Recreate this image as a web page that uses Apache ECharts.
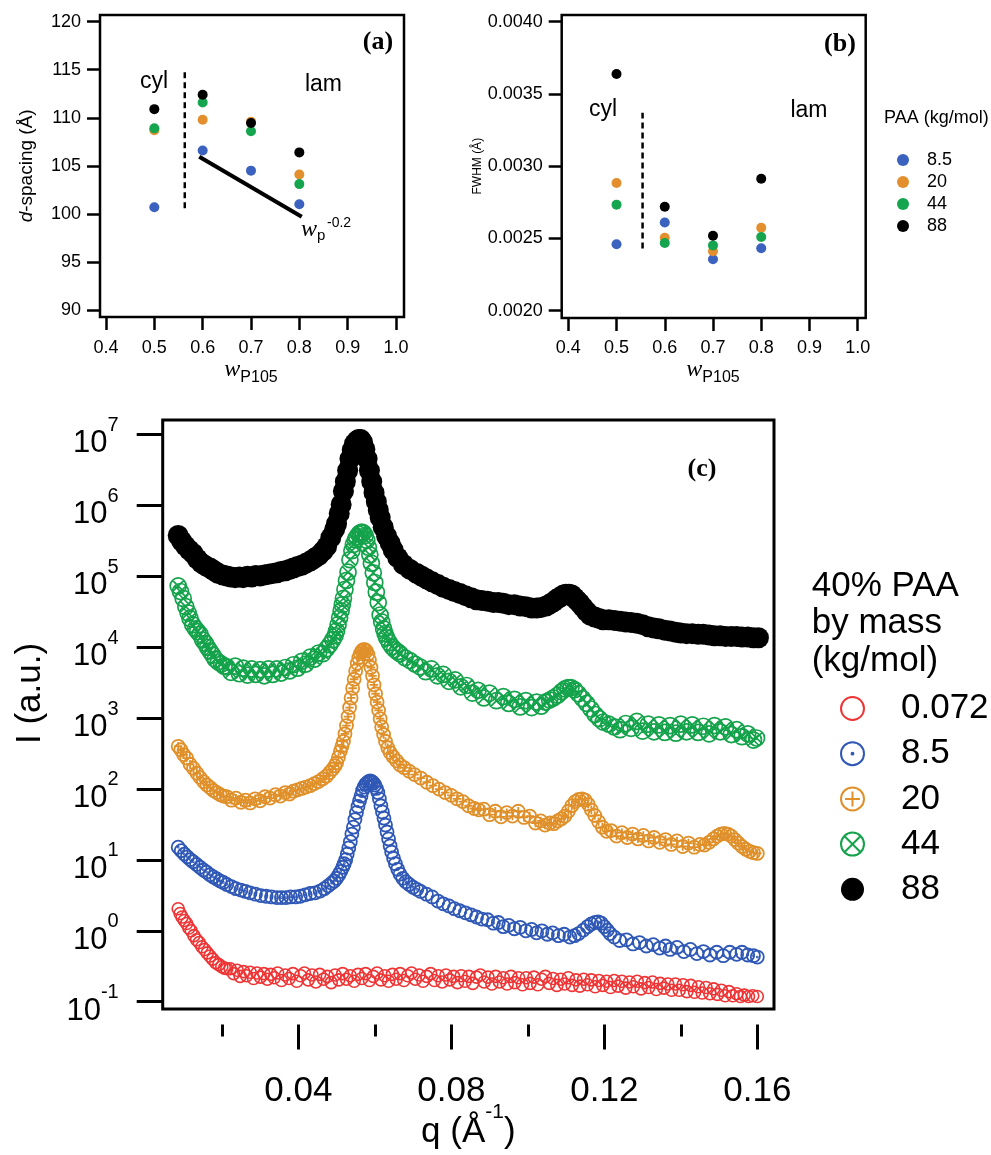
<!DOCTYPE html>
<html><head><meta charset="utf-8">
<script src="https://cdn.jsdelivr.net/npm/echarts@6/dist/echarts.min.js"></script>
<style>html,body{margin:0;padding:0;background:#fff}#c{width:991px;height:1155px}</style>
</head><body><div id="c"></div>
<script>
// ================= DATA =================
// panels (a),(b): x = w_P105
const wP105 = [0.5, 0.6, 0.7, 0.8];
const paaLabels = ['8.5', '20', '44', '88'];
const dSpacing_8_5 = [100.7, 106.6, 104.5, 101.0];
const dSpacing_20  = [108.7, 109.8, 109.6, 104.1];
const dSpacing_44  = [108.9, 111.6, 108.6, 103.1];
const dSpacing_88  = [110.9, 112.4, 109.45, 106.4];
const fwhm_8_5 = [0.00246, 0.00261, 0.002356, 0.002432];
const fwhm_20  = [0.002884, 0.002505, 0.002411, 0.002574];
const fwhm_44  = [0.002734, 0.002469, 0.002452, 0.00251];
const fwhm_88  = [0.003638, 0.00272, 0.002519, 0.002913];
const boundaryA = [[0.563, 100.6], [0.563, 114.9]];
const powerLawA = [[0.593, 105.95], [0.805, 99.7]];
const boundaryB = [[0.554, 0.00243], [0.554, 0.00337]];
// tick values
const xTicksAB = [0.4, 0.5, 0.6, 0.7, 0.8, 0.9, 1.0];
const yTicksA = [90, 95, 100, 105, 110, 115, 120];
const yTicksB = [0.0020, 0.0025, 0.0030, 0.0035, 0.0040];
const xTicksC = [0.04, 0.08, 0.12, 0.16];
const xMinorTicksC = [0.02, 0.04, 0.06, 0.08, 0.10, 0.12, 0.14, 0.16];
const yExpC = [-1, 0, 1, 2, 3, 4, 5, 6, 7];
// panel (c): [q (1/Å), log10 I]
const c_0072 = [[0.0086,0.13],[0.0091,0.06],[0.0096,0.01],[0.0102,-0.04],[0.0108,-0.085],[0.0114,-0.15],[0.0120,-0.19],[0.0127,-0.26],[0.0134,-0.32],[0.0141,-0.36],[0.0148,-0.42],[0.0155,-0.46],[0.0162,-0.51],[0.0169,-0.555],[0.0176,-0.60],[0.0184,-0.65],[0.0192,-0.68],[0.0200,-0.71],[0.0207,-0.73],[0.0213,-0.74],[0.0222,-0.74],[0.0231,-0.81],[0.0240,-0.76],[0.0248,-0.85],[0.0257,-0.78],[0.0265,-0.84],[0.0274,-0.79],[0.0283,-0.88],[0.0292,-0.80],[0.0301,-0.86],[0.0310,-0.81],[0.0319,-0.89],[0.0328,-0.82],[0.0337,-0.87],[0.0346,-0.80],[0.0356,-0.91],[0.0366,-0.83],[0.0376,-0.88],[0.0386,-0.81],[0.0396,-0.92],[0.0406,-0.84],[0.0416,-0.80],[0.0426,-0.90],[0.0436,-0.83],[0.0446,-0.93],[0.0456,-0.82],[0.0466,-0.89],[0.0476,-0.85],[0.0486,-0.94],[0.0496,-0.83],[0.0506,-0.90],[0.0516,-0.81],[0.0526,-0.89],[0.0536,-0.84],[0.0546,-0.92],[0.0556,-0.82],[0.0566,-0.88],[0.0576,-0.81],[0.0586,-0.91],[0.0596,-0.85],[0.0606,-0.80],[0.0616,-0.90],[0.0626,-0.84],[0.0636,-0.92],[0.0646,-0.82],[0.0656,-0.89],[0.0666,-0.81],[0.0676,-0.91],[0.0686,-0.84],[0.0696,-0.80],[0.0706,-0.89],[0.0716,-0.83],[0.0726,-0.92],[0.0736,-0.85],[0.0746,-0.81],[0.0756,-0.91],[0.0766,-0.84],[0.0776,-0.93],[0.0786,-0.83],[0.0796,-0.90],[0.0806,-0.85],[0.0816,-0.94],[0.0826,-0.84],[0.0836,-0.92],[0.0846,-0.85],[0.0856,-0.95],[0.0866,-0.86],[0.0876,-0.83],[0.0886,-0.93],[0.0896,-0.86],[0.0906,-0.96],[0.0916,-0.85],[0.0926,-0.93],[0.0936,-0.87],[0.0946,-0.96],[0.0956,-0.85],[0.0966,-0.94],[0.0976,-0.87],[0.0986,-0.97],[0.0996,-0.87],[0.1006,-0.95],[0.1016,-0.86],[0.1026,-0.97],[0.1036,-0.89],[0.1046,-0.85],[0.1056,-0.95],[0.1066,-0.88],[0.1076,-0.98],[0.1086,-0.89],[0.1096,-0.96],[0.1106,-0.87],[0.1116,-0.98],[0.1126,-0.90],[0.1136,-0.99],[0.1146,-0.89],[0.1156,-0.97],[0.1166,-0.90],[0.1176,-1.00],[0.1186,-0.91],[0.1196,-0.98],[0.1206,-0.92],[0.1216,-1.01],[0.1226,-0.91],[0.1236,-0.99],[0.1246,-0.92],[0.1256,-1.02],[0.1266,-0.93],[0.1276,-1.00],[0.1286,-0.92],[0.1296,-1.03],[0.1306,-0.94],[0.1316,-1.01],[0.1326,-0.93],[0.1336,-1.04],[0.1346,-0.95],[0.1356,-1.02],[0.1366,-0.96],[0.1376,-1.05],[0.1386,-0.96],[0.1396,-1.05],[0.1406,-0.97],[0.1416,-1.07],[0.1426,-0.98],[0.1436,-1.08],[0.1446,-1.00],[0.1456,-1.09],[0.1466,-1.01],[0.1476,-1.10],[0.1486,-1.03],[0.1496,-1.11],[0.1506,-1.05],[0.1516,-1.13],[0.1526,-1.07],[0.1536,-1.13],[0.1546,-1.10],[0.1556,-1.14],[0.1566,-1.12],[0.1577,-1.14],[0.1588,-1.13],[0.1600,-1.14]];
const c_8_5 = [[0.0086,1.02],[0.0094,0.97],[0.0102,0.92],[0.0110,0.88],[0.0118,0.84],[0.0125,0.81],[0.0134,0.77],[0.0143,0.73],[0.0152,0.69],[0.0160,0.66],[0.0169,0.62],[0.0178,0.59],[0.0187,0.56],[0.0196,0.53],[0.0204,0.51],[0.0213,0.48],[0.0225,0.45],[0.0237,0.42],[0.0250,0.40],[0.0262,0.38],[0.0274,0.36],[0.0288,0.34],[0.0302,0.32],[0.0316,0.31],[0.0330,0.30],[0.0344,0.29],[0.0356,0.29],[0.0368,0.29],[0.0380,0.30],[0.0393,0.30],[0.0405,0.31],[0.0418,0.33],[0.0431,0.35],[0.0444,0.36],[0.0457,0.385],[0.0468,0.42],[0.0478,0.46],[0.0487,0.50],[0.0494,0.53],[0.0500,0.57],[0.0506,0.62],[0.0511,0.67],[0.0516,0.73],[0.0520,0.78],[0.0524,0.84],[0.0528,0.92],[0.0532,1.01],[0.0536,1.10],[0.0540,1.21],[0.0544,1.31],[0.0548,1.42],[0.0552,1.52],[0.0556,1.61],[0.0560,1.69],[0.0564,1.76],[0.0568,1.84],[0.0572,1.89],[0.0576,1.93],[0.0580,1.95],[0.0584,1.97],[0.0588,1.98],[0.0592,1.97],[0.0596,1.95],[0.0600,1.92],[0.0604,1.87],[0.0608,1.81],[0.0612,1.72],[0.0616,1.62],[0.0620,1.53],[0.0624,1.44],[0.0628,1.34],[0.0632,1.24],[0.0636,1.14],[0.0640,1.04],[0.0644,0.95],[0.0649,0.86],[0.0654,0.78],[0.0660,0.70],[0.0666,0.63],[0.0673,0.57],[0.0681,0.52],[0.0690,0.48],[0.0700,0.44],[0.0710,0.41],[0.0720,0.38],[0.0735,0.34],[0.0750,0.30],[0.0765,0.24],[0.0779,0.20],[0.0794,0.17],[0.0808,0.13],[0.0822,0.10],[0.0837,0.07],[0.0852,0.04],[0.0866,0.01],[0.0880,-0.02],[0.0895,-0.03],[0.0910,-0.08],[0.0923,-0.07],[0.0936,-0.13],[0.0950,-0.11],[0.0965,-0.16],[0.0980,-0.14],[0.0995,-0.19],[0.1010,-0.17],[0.1023,-0.22],[0.1037,-0.19],[0.1051,-0.24],[0.1065,-0.22],[0.1080,-0.26],[0.1095,-0.24],[0.1110,-0.28],[0.1122,-0.26],[0.1133,-0.23],[0.1145,-0.18],[0.1156,-0.13],[0.1166,-0.09],[0.1176,-0.07],[0.1184,-0.06],[0.1192,-0.08],[0.1200,-0.13],[0.1208,-0.18],[0.1215,-0.23],[0.1226,-0.28],[0.1240,-0.33],[0.1258,-0.32],[0.1275,-0.38],[0.1292,-0.36],[0.1310,-0.41],[0.1328,-0.39],[0.1345,-0.44],[0.1360,-0.41],[0.1372,-0.46],[0.1390,-0.43],[0.1408,-0.49],[0.1425,-0.46],[0.1442,-0.52],[0.1459,-0.49],[0.1476,-0.54],[0.1494,-0.50],[0.1511,-0.55],[0.1528,-0.50],[0.1546,-0.53],[0.1560,-0.50],[0.1575,-0.54],[0.1590,-0.55],[0.1600,-0.57]];
const c_20 = [[0.0086,2.48],[0.0093,2.43],[0.0100,2.36],[0.0108,2.31],[0.0117,2.22],[0.0126,2.16],[0.0135,2.09],[0.0143,2.03],[0.0152,1.97],[0.0161,1.92],[0.0170,1.88],[0.0178,1.84],[0.0187,1.81],[0.0196,1.78],[0.0204,1.76],[0.0213,1.75],[0.0225,1.70],[0.0237,1.73],[0.0250,1.67],[0.0262,1.70],[0.0274,1.66],[0.0287,1.72],[0.0300,1.69],[0.0313,1.75],[0.0326,1.73],[0.0340,1.78],[0.0353,1.76],[0.0366,1.81],[0.0377,1.79],[0.0387,1.83],[0.0398,1.85],[0.0409,1.87],[0.0420,1.89],[0.0431,1.91],[0.0442,1.94],[0.0453,1.97],[0.0464,2.01],[0.0474,2.05],[0.0482,2.10],[0.0490,2.15],[0.0496,2.20],[0.0500,2.24],[0.0505,2.32],[0.0510,2.41],[0.0514,2.48],[0.0518,2.55],[0.0522,2.66],[0.0526,2.78],[0.0530,2.91],[0.0534,3.04],[0.0538,3.18],[0.0542,3.32],[0.0546,3.45],[0.0550,3.57],[0.0554,3.68],[0.0558,3.76],[0.0562,3.82],[0.0566,3.86],[0.0570,3.88],[0.0574,3.88],[0.0578,3.86],[0.0582,3.81],[0.0586,3.73],[0.0590,3.62],[0.0594,3.50],[0.0598,3.37],[0.0602,3.24],[0.0606,3.12],[0.0610,3.00],[0.0614,2.88],[0.0618,2.76],[0.0623,2.65],[0.0628,2.55],[0.0634,2.46],[0.0640,2.39],[0.0648,2.33],[0.0657,2.27],[0.0666,2.21],[0.0677,2.17],[0.0690,2.12],[0.0704,2.07],[0.0720,2.02],[0.0736,1.96],[0.0752,1.91],[0.0768,1.86],[0.0784,1.81],[0.0800,1.77],[0.0815,1.72],[0.0830,1.68],[0.0845,1.62],[0.0860,1.58],[0.0872,1.56],[0.0885,1.57],[0.0900,1.49],[0.0915,1.54],[0.0930,1.46],[0.0945,1.52],[0.0960,1.47],[0.0975,1.54],[0.0990,1.45],[0.1005,1.47],[0.1020,1.37],[0.1034,1.40],[0.1045,1.34],[0.1058,1.37],[0.1068,1.36],[0.1078,1.40],[0.1088,1.43],[0.1097,1.47],[0.1106,1.54],[0.1115,1.62],[0.1124,1.68],[0.1133,1.71],[0.1142,1.72],[0.1150,1.70],[0.1158,1.64],[0.1166,1.56],[0.1175,1.48],[0.1185,1.39],[0.1195,1.31],[0.1206,1.25],[0.1218,1.26],[0.1232,1.18],[0.1246,1.23],[0.1260,1.16],[0.1274,1.21],[0.1288,1.14],[0.1302,1.19],[0.1316,1.11],[0.1330,1.16],[0.1345,1.09],[0.1360,1.13],[0.1375,1.06],[0.1390,1.11],[0.1405,1.03],[0.1420,1.08],[0.1435,1.02],[0.1450,1.06],[0.1462,1.05],[0.1474,1.09],[0.1485,1.14],[0.1495,1.18],[0.1505,1.21],[0.1514,1.22],[0.1523,1.21],[0.1532,1.18],[0.1541,1.13],[0.1550,1.08],[0.1560,1.03],[0.1570,0.99],[0.1580,0.96],[0.1590,0.94],[0.1600,0.93]];
const c_44 = [[0.0086,4.80],[0.0092,4.72],[0.0099,4.62],[0.0106,4.50],[0.0112,4.41],[0.0117,4.33],[0.0124,4.24],[0.0131,4.18],[0.0137,4.14],[0.0143,4.10],[0.0150,4.02],[0.0157,3.97],[0.0163,3.91],[0.0169,3.86],[0.0176,3.80],[0.0183,3.74],[0.0191,3.70],[0.0199,3.67],[0.0206,3.64],[0.0213,3.63],[0.0224,3.55],[0.0235,3.64],[0.0246,3.53],[0.0256,3.61],[0.0267,3.51],[0.0278,3.60],[0.0289,3.52],[0.0300,3.59],[0.0311,3.50],[0.0322,3.60],[0.0333,3.52],[0.0344,3.60],[0.0355,3.54],[0.0366,3.62],[0.0377,3.57],[0.0387,3.66],[0.0398,3.61],[0.0409,3.71],[0.0420,3.67],[0.0431,3.77],[0.0442,3.74],[0.0453,3.83],[0.0464,3.82],[0.0474,3.89],[0.0482,3.95],[0.0490,4.02],[0.0496,4.08],[0.0500,4.15],[0.0504,4.24],[0.0508,4.34],[0.0512,4.44],[0.0515,4.53],[0.0518,4.62],[0.0522,4.75],[0.0526,4.88],[0.0530,5.00],[0.0535,5.18],[0.0540,5.31],[0.0544,5.40],[0.0549,5.47],[0.0553,5.51],[0.0558,5.55],[0.0562,5.57],[0.0566,5.58],[0.0570,5.57],[0.0575,5.53],[0.0579,5.46],[0.0583,5.36],[0.0587,5.25],[0.0591,5.13],[0.0596,4.99],[0.0600,4.85],[0.0604,4.71],[0.0609,4.56],[0.0614,4.38],[0.0618,4.28],[0.0623,4.18],[0.0627,4.11],[0.0631,4.05],[0.0638,3.98],[0.0645,3.92],[0.0652,3.88],[0.0659,3.85],[0.0666,3.82],[0.0679,3.76],[0.0692,3.72],[0.0705,3.67],[0.0718,3.63],[0.0733,3.56],[0.0748,3.60],[0.0764,3.50],[0.0779,3.52],[0.0794,3.42],[0.0810,3.44],[0.0825,3.34],[0.0840,3.36],[0.0855,3.25],[0.0870,3.29],[0.0885,3.18],[0.0900,3.25],[0.0918,3.14],[0.0936,3.20],[0.0950,3.10],[0.0965,3.16],[0.0980,3.05],[0.0995,3.14],[0.1010,3.04],[0.1023,3.12],[0.1035,3.06],[0.1046,3.12],[0.1057,3.15],[0.1067,3.18],[0.1078,3.22],[0.1088,3.27],[0.1097,3.31],[0.1105,3.33],[0.1113,3.33],[0.1122,3.30],[0.1132,3.24],[0.1143,3.17],[0.1154,3.10],[0.1165,3.02],[0.1176,2.94],[0.1187,2.88],[0.1197,2.83],[0.1212,2.80],[0.1226,2.76],[0.1241,2.72],[0.1256,2.81],[0.1270,2.74],[0.1285,2.84],[0.1300,2.70],[0.1315,2.80],[0.1330,2.69],[0.1343,2.79],[0.1358,2.68],[0.1372,2.78],[0.1387,2.67],[0.1400,2.80],[0.1415,2.69],[0.1430,2.79],[0.1445,2.68],[0.1459,2.77],[0.1474,2.66],[0.1488,2.78],[0.1503,2.69],[0.1517,2.76],[0.1532,2.65],[0.1546,2.72],[0.1560,2.62],[0.1575,2.66],[0.1590,2.57],[0.1598,2.60]];
const c_88 = [[0.0086,5.53],[0.0095,5.45],[0.0105,5.38],[0.0115,5.32],[0.0125,5.27],[0.0136,5.19],[0.0147,5.13],[0.0158,5.09],[0.0169,5.06],[0.0180,5.02],[0.0191,4.98],[0.0202,4.96],[0.0213,4.945],[0.0224,4.93],[0.0235,4.92],[0.0246,4.93],[0.0256,4.92],[0.0267,4.94],[0.0278,4.93],[0.0289,4.95],[0.0300,4.945],[0.0311,4.96],[0.0322,4.97],[0.0333,4.98],[0.0344,4.99],[0.0355,5.01],[0.0366,5.02],[0.0377,5.04],[0.0387,5.06],[0.0398,5.08],[0.0409,5.10],[0.0420,5.13],[0.0431,5.16],[0.0442,5.20],[0.0453,5.24],[0.0464,5.30],[0.0474,5.37],[0.0485,5.50],[0.0495,5.62],[0.0500,5.70],[0.0507,5.85],[0.0512,5.98],[0.0518,6.17],[0.0523,6.31],[0.0529,6.47],[0.0535,6.64],[0.0541,6.77],[0.0547,6.86],[0.0553,6.90],[0.0558,6.92],[0.0563,6.92],[0.0568,6.88],[0.0574,6.78],[0.0580,6.64],[0.0586,6.47],[0.0592,6.31],[0.0598,6.15],[0.0604,6.02],[0.0609,5.90],[0.0614,5.79],[0.0622,5.65],[0.0631,5.52],[0.0640,5.42],[0.0648,5.32],[0.0660,5.21],[0.0675,5.11],[0.0692,5.04],[0.0710,4.98],[0.0723,4.94],[0.0736,4.90],[0.0750,4.86],[0.0765,4.82],[0.0779,4.78],[0.0794,4.75],[0.0808,4.72],[0.0823,4.69],[0.0837,4.66],[0.0852,4.63],[0.0866,4.60],[0.0880,4.59],[0.0895,4.58],[0.0910,4.56],[0.0923,4.56],[0.0936,4.55],[0.0950,4.53],[0.0965,4.53],[0.0980,4.51],[0.0995,4.50],[0.1010,4.48],[0.1023,4.48],[0.1035,4.49],[0.1048,4.51],[0.1058,4.54],[0.1067,4.57],[0.1076,4.61],[0.1085,4.64],[0.1093,4.67],[0.1100,4.68],[0.1108,4.68],[0.1115,4.67],[0.1122,4.63],[0.1129,4.59],[0.1136,4.55],[0.1145,4.49],[0.1154,4.43],[0.1163,4.38],[0.1175,4.35],[0.1186,4.33],[0.1197,4.31],[0.1212,4.31],[0.1227,4.30],[0.1242,4.29],[0.1256,4.28],[0.1270,4.27],[0.1285,4.26],[0.1300,4.24],[0.1315,4.21],[0.1330,4.19],[0.1343,4.18],[0.1358,4.16],[0.1372,4.15],[0.1387,4.13],[0.1400,4.12],[0.1415,4.11],[0.1430,4.11],[0.1445,4.10],[0.1459,4.10],[0.1474,4.09],[0.1488,4.08],[0.1503,4.08],[0.1517,4.07],[0.1532,4.07],[0.1546,4.07],[0.1560,4.06],[0.1575,4.06],[0.1590,4.05],[0.1603,4.05]];
const seriesNamesC = ['0.072', '8.5', '20', '44', '88'];

// ================= STYLE / LAYOUT =================
const FONT = '"Liberation Sans", Arial, Helvetica, sans-serif';
const SERIF = '"Liberation Serif", "Times New Roman", serif';
const colAB = ['#3A62BE', '#E48F2D', '#14A54E', '#000000'];
const CIRC = 'M2 12C2 6.48 6.48 2 12 2C17.52 2 22 6.48 22 12C22 17.52 17.52 22 12 22C6.48 22 2 17.52 2 12Z';
const DOT = 'M11.2 12C11.2 11.56 11.56 11.2 12 11.2C12.44 11.2 12.8 11.56 12.8 12C12.8 12.44 12.44 12.8 12 12.8C11.56 12.8 11.2 12.44 11.2 12Z';
const PLUS = 'M12 5.5L12 18.5M5.5 12L18.5 12';
const CROSS = 'M4.93 4.93L19.07 19.07M19.07 4.93L4.93 19.07';

const grids = [], xAxes = [], yAxes = [], series = [];
function hidden(gi, min, max) { return { type: 'value', gridIndex: gi, show: false, min: min, max: max }; }
function tickLab(size, extra) { return Object.assign({ color: '#000', fontFamily: FONT, fontSize: size }, extra || {}); }
function addGrid(g) { grids.push(g); return grids.length - 1; }
const subName = {
  w: { fontFamily: SERIF, fontStyle: 'italic', fontSize: 24, lineHeight: 28, verticalAlign: 'top', color: '#000' },
  s: { fontFamily: FONT, fontSize: 16, lineHeight: 12, verticalAlign: 'bottom', color: '#000' }
};

// ---------- panel (a) ----------
const gA = addGrid({ left: 100, top: 15, width: 304, height: 302, show: true, borderColor: '#000', borderWidth: 2.5, backgroundColor: 'rgba(0,0,0,0)' });
xAxes.push(hidden(gA, 0.38759, 1.01659)); yAxes.push(hidden(gA, 89.2716, 120.697));
const gAy = addGrid({ left: 100, top: 21.7, width: 304, height: 288.3 });
xAxes.push(hidden(gAy, 0, 1));
yAxes.push({ type: 'value', gridIndex: gAy, min: yTicksA[0], max: yTicksA[yTicksA.length - 1], interval: yTicksA[1] - yTicksA[0],
  axisLine: { show: false }, axisTick: { show: true, length: 13, lineStyle: { color: '#000', width: 2.5 } },
  axisLabel: tickLab(18, { margin: 19 }), splitLine: { show: false },
  name: '{i|d}-spacing (Å)', nameLocation: 'middle', nameGap: 64,
  nameTextStyle: { color: '#000', fontFamily: FONT, fontSize: 19, rich: { i: { fontStyle: 'italic', fontFamily: FONT, fontSize: 19, color: '#000' } } } });
const gAx = addGrid({ left: 106, top: 15, width: 290, height: 302 });
xAxes.push({ type: 'value', gridIndex: gAx, min: xTicksAB[0], max: xTicksAB[xTicksAB.length - 1], interval: 0.1,
  axisLine: { show: false }, axisTick: { show: true, length: 13, lineStyle: { color: '#000', width: 2.5 } },
  axisLabel: tickLab(18, { margin: 22, formatter: v => v.toFixed(1) }), splitLine: { show: false },
  name: '{w|w}{s|P105}', nameLocation: 'middle', nameGap: 29, nameTextStyle: { rich: subName } });
yAxes.push(hidden(gAx, 0, 1));

// ---------- panel (b) ----------
const gB = addGrid({ left: 561.7, top: 15, width: 304, height: 303, show: true, borderColor: '#000', borderWidth: 2.5, backgroundColor: 'rgba(0,0,0,0)' });
xAxes.push(hidden(gB, 0.38632, 1.01663)); yAxes.push(hidden(gB, 0.0019495, 0.0040464));
const gBy = addGrid({ left: 561.7, top: 21.7, width: 304, height: 289 });
xAxes.push(hidden(gBy, 0, 1));
yAxes.push({ type: 'value', gridIndex: gBy, min: yTicksB[0], max: yTicksB[yTicksB.length - 1], interval: 0.0005,
  axisLine: { show: false }, axisTick: { show: true, length: 13, lineStyle: { color: '#000', width: 2.5 } },
  axisLabel: tickLab(18, { margin: 19, formatter: v => v.toFixed(4) }), splitLine: { show: false },
  name: 'FWHM (Å)', nameLocation: 'middle', nameGap: 66,
  nameTextStyle: { color: '#000', fontFamily: FONT, fontSize: 12 } });
const gBx = addGrid({ left: 568.3, top: 15, width: 289.4, height: 303 });
xAxes.push({ type: 'value', gridIndex: gBx, min: xTicksAB[0], max: xTicksAB[xTicksAB.length - 1], interval: 0.1,
  axisLine: { show: false }, axisTick: { show: true, length: 13, lineStyle: { color: '#000', width: 2.5 } },
  axisLabel: tickLab(18, { margin: 21, formatter: v => v.toFixed(1) }), splitLine: { show: false },
  name: '{w|w}{s|P105}', nameLocation: 'middle', nameGap: 28, nameTextStyle: { rich: subName } });
yAxes.push(hidden(gBx, 0, 1));

// ---------- panel (c) ----------
const gC = addGrid({ left: 162.7, top: 420, width: 611.3, height: 604.5, show: true, borderColor: '#000', borderWidth: 3, backgroundColor: 'rgba(0,0,0,0)' });
xAxes.push({ type: 'value', gridIndex: gC, min: 0.004549, max: 0.164366,
  axisLine: { show: false }, axisTick: { show: false }, axisLabel: { show: false }, splitLine: { show: false },
  name: '{a|q (Å}{s|-1}{a|)}', nameLocation: 'middle', nameGap: 93,
  nameTextStyle: { rich: { a: { fontFamily: FONT, fontSize: 35, lineHeight: 48, verticalAlign: 'bottom', color: '#000' },
                          s: { fontFamily: FONT, fontSize: 21, lineHeight: 21, verticalAlign: 'top', color: '#000' } } } });
yAxes.push({ type: 'value', gridIndex: gC, min: -1.32147, max: 7.20162,
  axisLine: { show: false }, axisTick: { show: false }, axisLabel: { show: false }, splitLine: { show: false },
  name: 'I (a.u.)', nameLocation: 'middle', nameGap: 115,
  nameTextStyle: { color: '#000', fontFamily: FONT, fontSize: 35, padding: [0, 0, 0, 42] } });
const gCy = addGrid({ left: 162.7, top: 434.3, width: 611.3, height: 567.4 });
xAxes.push(hidden(gCy, 0, 1));
yAxes.push({ type: 'value', gridIndex: gCy, min: yExpC[0], max: yExpC[yExpC.length - 1], interval: 1,
  axisLine: { show: false }, axisTick: { show: true, length: 26, lineStyle: { color: '#000', width: 3 } },
  axisLabel: { margin: 44, formatter: v => '{b|10}{s|' + v + '}',
    rich: { b: { fontFamily: FONT, fontSize: 31, lineHeight: 50, verticalAlign: 'bottom', color: '#000' },
            s: { fontFamily: FONT, fontSize: 20, lineHeight: 20, verticalAlign: 'top', padding: [6, 0, 0, 0], color: '#000' } } },
  splitLine: { show: false } });
const gCx = addGrid({ left: 298.3, top: 420, width: 459, height: 604.5 });
xAxes.push({ type: 'value', gridIndex: gCx, min: xTicksC[0], max: xTicksC[xTicksC.length - 1], interval: 0.04, offset: 3,
  axisLine: { show: false }, axisTick: { show: true, length: 25, lineStyle: { color: '#000', width: 3 } },
  axisLabel: tickLab(35, { margin: 46, formatter: v => v.toFixed(2) }), splitLine: { show: false } });
yAxes.push(hidden(gCx, 0, 1));
const gCm = addGrid({ left: 221.8, top: 420, width: 535.5, height: 604.5 });
xAxes.push({ type: 'value', gridIndex: gCm, min: xMinorTicksC[0], max: xMinorTicksC[xMinorTicksC.length - 1], interval: 0.02, offset: 3,
  axisLine: { show: false }, axisTick: { show: true, length: 12, lineStyle: { color: '#000', width: 3 } },
  axisLabel: { show: false }, splitLine: { show: false } });
yAxes.push(hidden(gCm, 0, 1));

// ---------- series ----------
const pair = (xs, ys) => xs.map((x, i) => [x, ys[i]]);
const dA = [dSpacing_8_5, dSpacing_20, dSpacing_44, dSpacing_88];
const fB = [fwhm_8_5, fwhm_20, fwhm_44, fwhm_88];
paaLabels.forEach((lab, k) => {
  series.push({ type: 'scatter', name: 'd ' + lab, xAxisIndex: gA, yAxisIndex: gA, data: pair(wP105, dA[k]),
    symbol: 'circle', symbolSize: 10, itemStyle: { color: colAB[k], opacity: 1 }, silent: true });
});
series.push({ type: 'line', name: 'boundaryA', xAxisIndex: gA, yAxisIndex: gA, data: boundaryA, showSymbol: false, symbol: 'none',
  lineStyle: { color: '#000', width: 2.5, type: [6, 4] }, silent: true });
series.push({ type: 'line', name: 'powerLawA', xAxisIndex: gA, yAxisIndex: gA, data: powerLawA, showSymbol: false, symbol: 'none',
  lineStyle: { color: '#000', width: 4 }, silent: true });
paaLabels.forEach((lab, k) => {
  series.push({ type: 'scatter', name: 'FWHM ' + lab, xAxisIndex: gB, yAxisIndex: gB, data: pair(wP105, fB[k]),
    symbol: 'circle', symbolSize: 10, itemStyle: { color: colAB[k], opacity: 1 }, silent: true });
});
series.push({ type: 'line', name: 'boundaryB', xAxisIndex: gB, yAxisIndex: gB, data: boundaryB, showSymbol: false, symbol: 'none',
  lineStyle: { color: '#000', width: 2.5, type: [6, 4] }, silent: true });

const styleC = [
  { data: c_0072, symbol: 'path://' + CIRC, size: 12, color: '#EE3434', lw: 1.6 },
  { data: c_8_5, symbol: 'path://' + CIRC + DOT, size: 13, color: '#2F58B6', lw: 1.8 },
  { data: c_20, symbol: 'path://' + CIRC + PLUS, size: 13, color: '#E0902A', lw: 1.8 },
  { data: c_44, symbol: 'path://' + CIRC + CROSS, size: 16, color: '#14A34B', lw: 1.7 },
  { data: c_88, symbol: 'circle', size: 21, color: '#000000', lw: 0, fill: true }
];
seriesNamesC.forEach((nm, k) => {
  const s = styleC[k];
  series.push({ type: 'scatter', name: nm, xAxisIndex: gC, yAxisIndex: gC, data: s.data,
    symbol: s.symbol, symbolSize: s.size, symbolKeepAspect: true,
    itemStyle: s.fill ? { color: s.color, opacity: 1 } : { color: 'rgba(0,0,0,0)', borderColor: s.color, borderWidth: s.lw, opacity: 1 },
    silent: true, emphasis: { disabled: true } });
});

// ---------- annotations ----------
const txt = (x, y, text, font, align) => ({ type: 'text', x: x, y: y, silent: true,
  style: { text: text, font: font, fill: '#000', align: align || 'center', verticalAlign: 'middle' } });
const graphic = [
  txt(154, 82, 'cyl', '23px ' + FONT), txt(323.5, 85, 'lam', '23px ' + FONT),
  txt(378, 42.5, '(a)', 'bold 26px ' + SERIF),
  txt(301, 229.5, 'w', 'italic 24px ' + SERIF, 'left'),
  txt(317, 236, 'p', '15px ' + FONT, 'left'),
  txt(327, 223, '-0.2', '14px ' + FONT, 'left'),
  txt(603, 109.3, 'cyl', '23px ' + FONT), txt(809, 110.3, 'lam', '23px ' + FONT),
  txt(840, 44, '(b)', 'bold 26px ' + SERIF),
  txt(884, 118, 'PAA (kg/mol)', '18px ' + FONT, 'left'),
  txt(702, 469, '(c)', 'bold 26px ' + SERIF),
  { type: 'text', x: 811.7, y: 567.5, silent: true,
    style: { text: '40% PAA\nby mass\n(kg/mol)', font: '35px ' + FONT, lineHeight: 37.5, fill: '#000', align: 'left', verticalAlign: 'top' } }
];

const option = {
  animation: false,
  backgroundColor: '#fff',
  textStyle: { fontFamily: FONT },
  grid: grids, xAxis: xAxes, yAxis: yAxes, series: series, graphic: graphic,
  legend: [
    { data: paaLabels.map(l => 'FWHM ' + l), orient: 'vertical', left: 897, top: 151, padding: 0,
      itemWidth: 12, itemHeight: 12, itemGap: 4, selectedMode: false,
      formatter: n => '{t|' + n.replace('FWHM ', '') + '}',
      textStyle: { color: '#000', fontFamily: FONT, fontSize: 18, rich: { t: { fontFamily: FONT, fontSize: 18, color: '#000', padding: [0, 0, 0, 13] } } } },
    { data: seriesNamesC, orient: 'vertical', left: 840, top: 691, padding: 0,
      itemWidth: 23, itemHeight: 23, itemGap: 10.2, selectedMode: false,
      formatter: n => '{t|' + n + '}',
      textStyle: { color: '#000', fontFamily: FONT, fontSize: 35, rich: { t: { fontFamily: FONT, fontSize: 35, color: '#000', padding: [0, 0, 0, 32] } } } }
  ]
};
const chart = echarts.init(document.getElementById('c'), null, { renderer: 'canvas', width: 991, height: 1155 });
chart.setOption(option);
</script></body></html>
